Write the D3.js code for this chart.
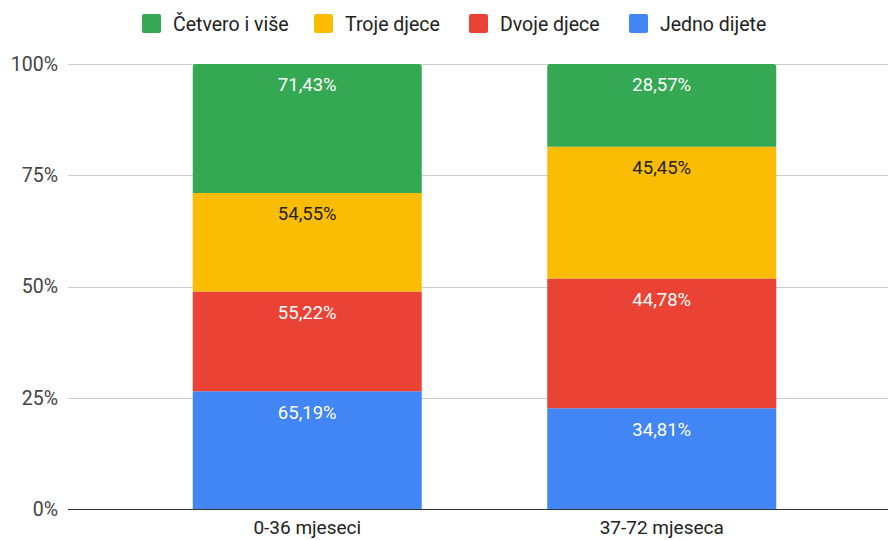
<!DOCTYPE html>
<html>
<head>
<meta charset="UTF-8">
<title>Chart</title>
<script src="https://cdn.jsdelivr.net/npm/d3@7"></script>
<style>
  body { margin: 0; background: #fff; }
  svg { font-family: Roboto, "Noto Sans", sans-serif; }
</style>
</head>
<body>
<div id="chart"></div>
<script>
// categories on the x axis
var categories = ["0-36 mjeseci", "37-72 mjeseca"];

// series, bottom to top
var seriesNames = ["Jedno dijete", "Dvoje djece", "Troje djece", "Četvero i više"];
var jednoDijete = [65.19, 34.81];
var dvojeDjece = [55.22, 44.78];
var trojeDjece = [54.55, 45.45];
var cetveroVise = [71.43, 28.57];
var seriesValues = [jednoDijete, dvojeDjece, trojeDjece, cetveroVise];

// legend order (left to right)
var legendOrder = ["Četvero i više", "Troje djece", "Dvoje djece", "Jedno dijete"];

var yTicks = [0, 0.25, 0.5, 0.75, 1];

var colors = {
  "Jedno dijete": "#4285f4",
  "Dvoje djece": "#ea4335",
  "Troje djece": "#fbbc04",
  "Četvero i više": "#34a853"
};
var labelColors = {
  "Jedno dijete": "#ffffff",
  "Dvoje djece": "#ffffff",
  "Troje djece": "#222222",
  "Četvero i više": "#ffffff"
};

var width = 888, height = 540;

var svg = d3.select("#chart").append("svg")
  .attr("width", width)
  .attr("height", height);

// build table rows for the stack
var rows = categories.map(function(c, i) {
  var r = { cat: c };
  seriesNames.forEach(function(s, j) { r[s] = seriesValues[j][i]; });
  return r;
});

var stack = d3.stack().keys(seriesNames).offset(d3.stackOffsetExpand);
var layers = stack(rows);

var x = d3.scaleBand()
  .domain(categories)
  .range([130, 839])
  .paddingInner(0.354)
  .paddingOuter(0.177);

var y = d3.scaleLinear()
  .domain([0, 1])
  .range([509, 64]);

// gridlines
svg.append("g").selectAll("line")
  .data(yTicks.filter(function(t) { return t > 0; }))
  .enter().append("line")
  .attr("x1", 68).attr("x2", width)
  .attr("y1", function(d) { return Math.round(y(d)) + 0.5; })
  .attr("y2", function(d) { return Math.round(y(d)) + 0.5; })
  .attr("stroke", "#cccccc")
  .attr("stroke-width", 1);

// y axis labels
var yAxis = d3.axisLeft(y)
  .tickValues(yTicks)
  .tickSize(0)
  .tickPadding(0)
  .tickFormat(function(d) { return Math.round(d * 100) + "%"; });

svg.append("g")
  .attr("transform", "translate(58,0)")
  .call(yAxis)
  .call(function(g) { g.select(".domain").remove(); })
  .selectAll("text")
  .attr("font-family", "Roboto")
  .attr("font-size", 19.5)
  .attr("fill", "#444444");

// rounded-top path for the top segment
function topRounded(x0, y0, w, h, r) {
  return "M" + x0 + "," + (y0 + h) +
    "V" + (y0 + r) +
    "Q" + x0 + "," + y0 + " " + (x0 + r) + "," + y0 +
    "H" + (x0 + w - r) +
    "Q" + (x0 + w) + "," + y0 + " " + (x0 + w) + "," + (y0 + r) +
    "V" + (y0 + h) + "Z";
}

// bars
var layerG = svg.append("g").selectAll("g")
  .data(layers)
  .enter().append("g")
  .attr("fill", function(d) { return colors[d.key]; });

layerG.selectAll("path")
  .data(function(d) { return d.map(function(p) { p.key = d.key; return p; }); })
  .enter().append("path")
  .attr("d", function(d) {
    var top = y(d[1]), bot = y(d[0]);
    var r = d[1] >= 0.9999 ? 3 : 0;
    return topRounded(x(d.data.cat), top, x.bandwidth(), bot - top, r);
  });

// value labels
layerG.selectAll("text")
  .data(function(d) { return d; })
  .enter().append("text")
  .attr("x", function(d) { return x(d.data.cat) + x.bandwidth() / 2; })
  .attr("y", function(d) { return y(d[1]) + 21; })
  .attr("dy", "0.35em")
  .attr("text-anchor", "middle")
  .attr("font-size", 18.5)
  .attr("fill", function(d) { return labelColors[d.key]; })
  .text(function(d) { return d.data[d.key].toFixed(2).replace(".", ",") + "%"; });

// baseline
svg.append("line")
  .attr("x1", 68).attr("x2", width)
  .attr("y1", y(0) + 0.5).attr("y2", y(0) + 0.5)
  .attr("stroke", "#333333")
  .attr("stroke-width", 1);

// x axis
var xAxis = d3.axisBottom(x).tickSize(0).tickPadding(0);
svg.append("g")
  .attr("transform", "translate(0," + y(0) + ")")
  .call(xAxis)
  .call(function(g) { g.select(".domain").remove(); })
  .selectAll("text")
  .attr("y", 25)
  .attr("dy", "0")
  .attr("font-family", "Roboto")
  .attr("font-size", 19)
  .attr("fill", "#222222");

// legend
var legendX = [142, 314, 469, 629];
var legend = svg.append("g").selectAll("g")
  .data(legendOrder)
  .enter().append("g")
  .attr("transform", function(d, i) { return "translate(" + legendX[i] + ",14)"; });

legend.append("rect")
  .attr("width", 19).attr("height", 19)
  .attr("rx", 2)
  .attr("fill", function(d) { return colors[d]; });

legend.append("text")
  .attr("x", 31)
  .attr("y", 10)
  .attr("dy", "0.35em")
  .attr("font-size", 19.5)
  .attr("fill", "#222222")
  .text(function(d) { return d; });
</script>
</body>
</html>
